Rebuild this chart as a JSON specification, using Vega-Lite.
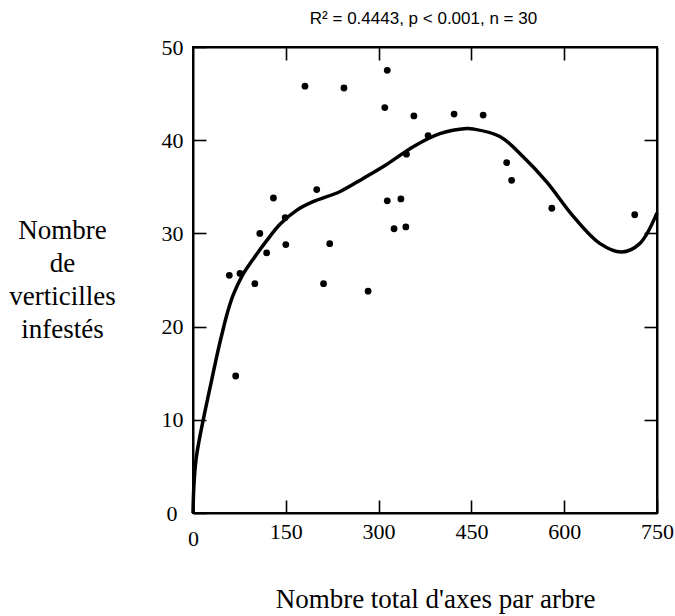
{
  "$schema": "https://vega.github.io/schema/vega-lite/v6.json",
  "width": 464,
  "height": 466,
  "autosize": {"type": "none"},
  "padding": {"left": 193, "top": 47, "right": 18, "bottom": 103},
  "background": "white",
  "config": {
    "view": {"stroke": "black", "strokeWidth": 2},
    "axis": {
      "grid": false,
      "domainColor": "black",
      "domainWidth": 2,
      "tickColor": "black",
      "tickWidth": 1.6,
      "labelColor": "black",
      "labelFont": "Liberation Serif",
      "labelFontSize": 22,
      "labelFlush": false,
      "labelOverlap": false,
      "labelBound": false,
      "titleColor": "black",
      "titleFont": "Liberation Serif",
      "titleFontSize": 27,
      "titleFontWeight": "normal"
    }
  },
  "layer": [
    {
      "data": {
        "values": [
          {"x": 58.7, "y": 25.5}, {"x": 76, "y": 25.7}, {"x": 69, "y": 14.7},
          {"x": 100, "y": 24.6}, {"x": 108, "y": 30.0}, {"x": 119, "y": 27.9},
          {"x": 130, "y": 33.8}, {"x": 149, "y": 31.7}, {"x": 150, "y": 28.8},
          {"x": 181, "y": 45.8}, {"x": 200, "y": 34.7}, {"x": 211, "y": 24.6},
          {"x": 221, "y": 28.9}, {"x": 244, "y": 45.6}, {"x": 283, "y": 23.8},
          {"x": 310, "y": 43.5}, {"x": 314, "y": 47.5}, {"x": 314, "y": 33.5},
          {"x": 325, "y": 30.5}, {"x": 336, "y": 33.7}, {"x": 344, "y": 30.7},
          {"x": 345, "y": 38.5}, {"x": 357, "y": 42.6}, {"x": 380, "y": 40.5},
          {"x": 422, "y": 42.8}, {"x": 469, "y": 42.7}, {"x": 507, "y": 37.6},
          {"x": 515, "y": 35.7}, {"x": 580, "y": 32.7}, {"x": 714, "y": 32.0}
        ]
      },
      "mark": {"type": "circle", "size": 46, "color": "black", "opacity": 1},
      "encoding": {
        "x": {
          "field": "x", "type": "quantitative",
          "scale": {"domain": [0, 750], "nice": false, "zero": false},
          "axis": {
            "orient": "bottom",
            "values": [0, 150, 300, 450, 600, 750],
            "tickSize": -13,
            "labelBaseline": "alphabetic",
            "labelPadding": {"condition": {"test": "datum.value === 0", "value": 45}, "value": 38},
            "title": "Nombre total d'axes par arbre",
            "titleX": 242,
            "titleY": 94,
            "titleAlign": "center",
            "titleBaseline": "alphabetic"
          }
        },
        "y": {
          "field": "y", "type": "quantitative",
          "scale": {"domain": [0, 50], "nice": false, "zero": false},
          "axis": {
            "orient": "left",
            "values": [0, 10, 20, 30, 40, 50],
            "tickSize": -13,
            "labelBaseline": "middle",
            "labelPadding": {"condition": {"test": "datum.value === 0", "value": 29}, "value": 23},
            "title": ["Nombre", "de", "verticilles", "infestés"],
            "titleAngle": 0,
            "titleX": -131,
            "titleY": 191,
            "titleAlign": "center",
            "titleBaseline": "alphabetic",
            "titleLineHeight": 33
          }
        }
      }
    },
    {
      "data": {
        "values": [
          {"x": 0, "y": 0}, {"x": 1.5, "y": 3}, {"x": 5, "y": 5.8}, {"x": 10, "y": 7.8},
          {"x": 19, "y": 10.8}, {"x": 30, "y": 14.2}, {"x": 40, "y": 17.3}, {"x": 49, "y": 19.8},
          {"x": 57, "y": 21.8}, {"x": 65, "y": 23.4}, {"x": 79, "y": 25.4},
          {"x": 99, "y": 27.4}, {"x": 120, "y": 29.3}, {"x": 141, "y": 31.0}, {"x": 168, "y": 32.5},
          {"x": 194, "y": 33.4}, {"x": 238, "y": 34.5}, {"x": 275, "y": 35.9}, {"x": 313, "y": 37.4},
          {"x": 356, "y": 39.3}, {"x": 399, "y": 40.7}, {"x": 442, "y": 41.25}, {"x": 453, "y": 41.2},
          {"x": 496, "y": 40.4}, {"x": 534, "y": 38.2}, {"x": 572, "y": 35.5}, {"x": 615, "y": 31.8},
          {"x": 658, "y": 28.9}, {"x": 693, "y": 28.0}, {"x": 722, "y": 28.9}, {"x": 750, "y": 32.2}
        ]
      },
      "mark": {"type": "line", "color": "black", "strokeWidth": 3.5, "interpolate": "catmull-rom"},
      "encoding": {
        "x": {
          "field": "x", "type": "quantitative",
          "axis": {
            "orient": "top", "values": [150, 300, 450, 600], "tickSize": -13, "labels": false,
            "title": "R² = 0.4443, p < 0.001, n = 30",
            "titleFont": "Liberation Sans",
            "titleFontSize": 17,
            "titleX": 230,
            "titleY": -24,
            "titleAlign": "center",
            "titleBaseline": "alphabetic"
          }
        },
        "y": {
          "field": "y", "type": "quantitative",
          "axis": {"orient": "right", "values": [10, 20, 30, 40], "tickSize": -13, "labels": false, "title": null}
        }
      }
    }
  ],
  "resolve": {"axis": {"x": "independent", "y": "independent"}}
}
